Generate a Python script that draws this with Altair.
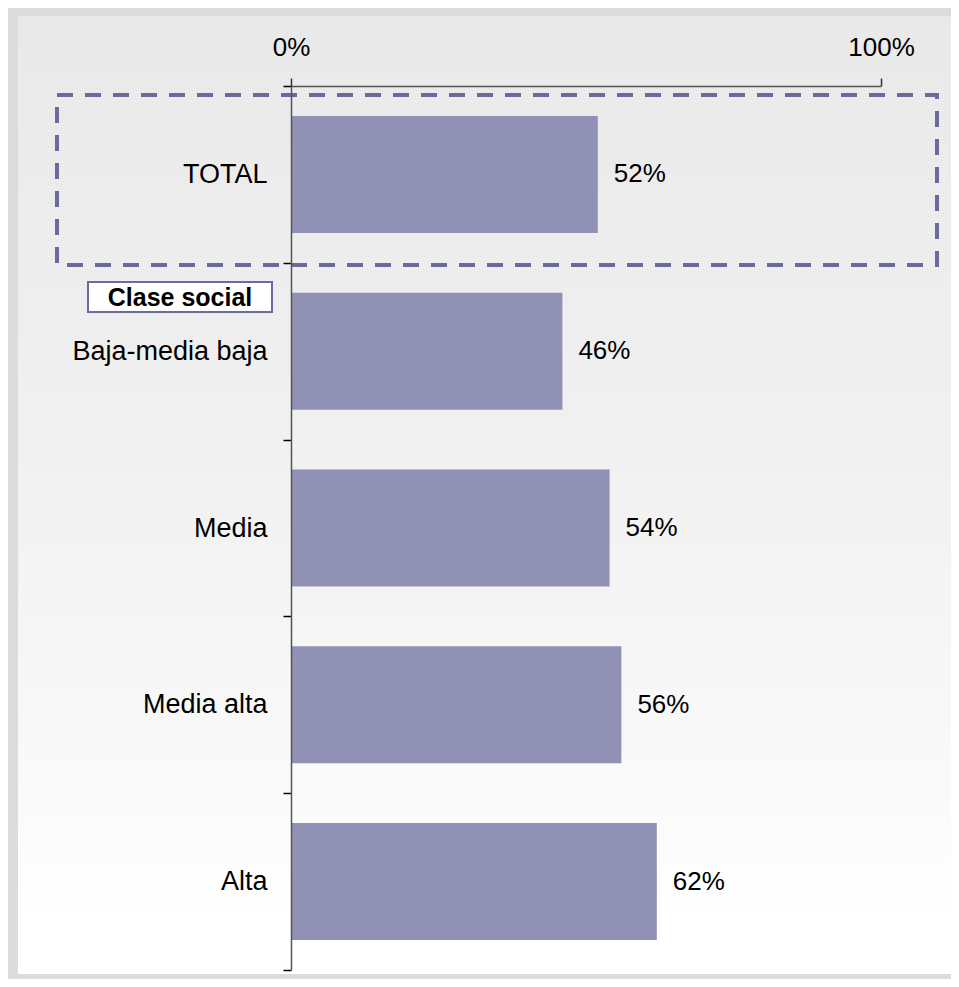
import altair as alt
import pandas as pd

categories = ["TOTAL", "Baja-media baja", "Media", "Media alta", "Alta"]
values = [52, 46, 54, 56, 62]
value_labels = ["52%", "46%", "54%", "56%", "62%"]
tick_values = [0, 100]
group_label = "Clase social"

df = pd.DataFrame({"cat": categories, "val": values, "lab": value_labels})

FONT = "Liberation Sans"
W, H = 590, 884
PAD = {"left": 283, "top": 78, "right": 70, "bottom": 9}

ysc = alt.Scale(domain=categories, paddingInner=0, paddingOuter=0)
xsc = alt.Scale(domain=[0, 100], nice=False, zero=True)

one = alt.Data(values=[{"a": 1}])

grad = alt.LinearGradient(
    gradient="linear",
    stops=[alt.GradientStop(color="#e9e9e9", offset=0),
           alt.GradientStop(color="#f0f0f0", offset=0.42),
           alt.GradientStop(color="#f9f9f9", offset=0.78),
           alt.GradientStop(color="#ffffff", offset=0.95),
           alt.GradientStop(color="#ffffff", offset=1)],
    x1=0, x2=0, y1=0, y2=1,
)

bg = alt.Chart(one).mark_rect(fill=grad).encode(
    x=alt.value(-273), x2=alt.value(680), y=alt.value(-70), y2=alt.value(888)
)

bars = alt.Chart(df).mark_bar(color="#9191b5", height={"band": 0.662}).encode(
    y=alt.Y("cat:N", scale=ysc, sort=categories,
            axis=alt.Axis(title=None, tickBand="extent", tickSize=8, labelPadding=16,
                          labelFontSize=27, labelFont=FONT, labelColor="#000000",
                          domainColor="#555555", domainWidth=1.5, tickColor="#000000",
                          tickWidth=1.5, labelLimit=400, zindex=2)),
    x=alt.X("val:Q", scale=xsc,
            axis=alt.Axis(title=None, orient="top", values=tick_values, tickSize=8,
                          labelPadding=18, labelFontSize=26, labelFont=FONT,
                          labelColor="#000000", labelExpr="datum.value + '%'",
                          domainColor="#555555", domainWidth=1.5, tickColor="#333333",
                          tickWidth=1.5, grid=False, labelFlush=False, zindex=2)),
)

texts = alt.Chart(df).mark_text(align="left", baseline="middle", dx=16, fontSize=26,
                                font=FONT, color="#000000").encode(
    y=alt.Y("cat:N", scale=ysc, sort=categories),
    x=alt.X("val:Q", scale=xsc),
    text="lab:N",
)

dashed = alt.Chart(one).mark_rect(fill=None, stroke="#6a6a9c", strokeWidth=4,
                                  strokeDash=[16, 12]).encode(
    x=alt.value(-234), x2=alt.value(646), y=alt.value(9), y2=alt.value(179)
)

box = alt.Chart(one).mark_rect(fill="#ffffff", stroke="#6b6b9e", strokeWidth=2).encode(
    x=alt.value(-203), x2=alt.value(-19), y=alt.value(196), y2=alt.value(226)
)

box_text = alt.Chart(alt.Data(values=[{"t": group_label}])).mark_text(
    align="center", baseline="middle", fontSize=25, fontWeight="bold", font=FONT,
    color="#000000").encode(
    x=alt.value(-111), y=alt.value(212), text="t:N"
)

chart = alt.layer(bg, bars, texts, dashed, box, box_text).properties(
    width=W, height=H,
    padding=PAD,
    autosize=alt.AutoSizeParams(type="none"),
    background="#dcdcdc",
).configure_view(stroke=None)

chart.save("out.html", embed_options={"renderer": "svg", "actions": False})
